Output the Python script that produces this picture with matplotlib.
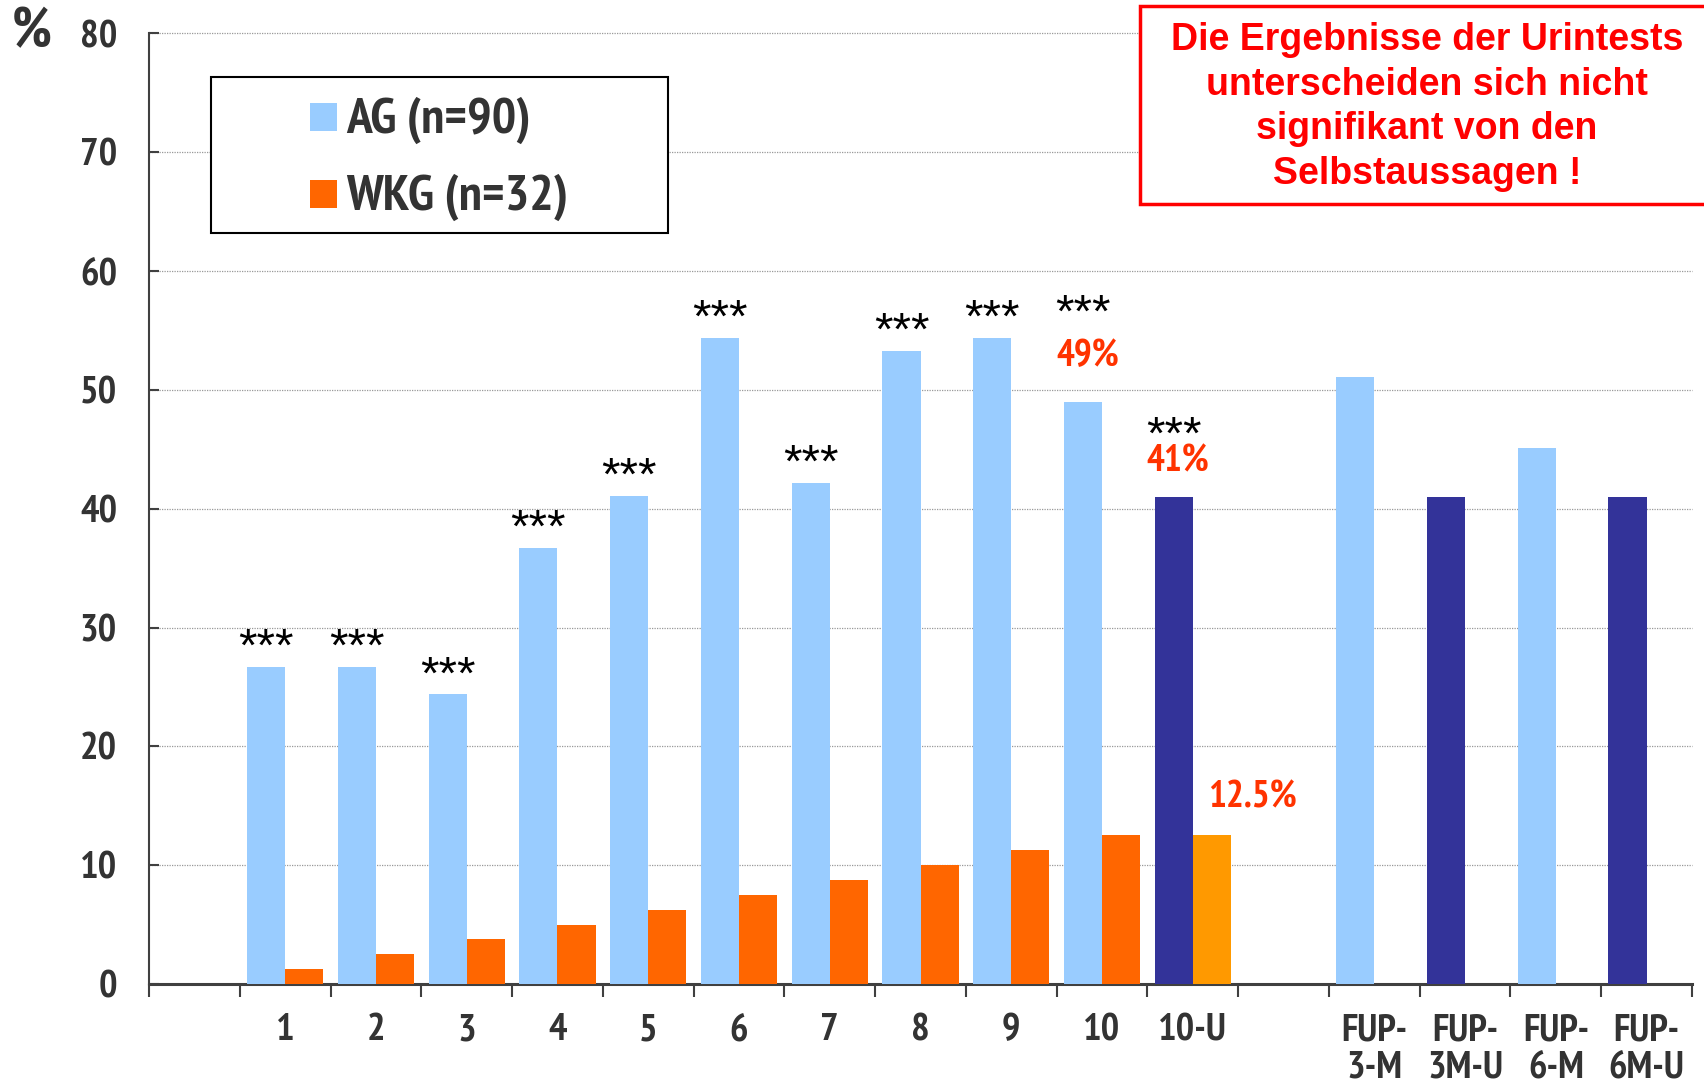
import numpy as np
import matplotlib.pyplot as plt
import matplotlib.font_manager as fm
from matplotlib.patches import Rectangle

# Kategorien (leere Einträge = Abstandhalter auf der x-Achse)
categories = ['', '1', '2', '3', '4', '5', '6', '7', '8', '9', '10', '10-U', '',
              'FUP-\n3-M', 'FUP-\n3M-U', 'FUP-\n6-M', 'FUP-\n6M-U']

# Anteil positiver Befunde in %
ag_values = [np.nan, 26.7, 26.7, 24.4, 36.7, 41.1, 54.4, 42.2, 53.3, 54.4, 49.0, 41.0, np.nan,
             51.1, 41.0, 45.1, 41.0]
wkg_values = [np.nan, 1.25, 2.5, 3.75, 5.0, 6.25, 7.5, 8.75, 10.0, 11.25, 12.5, 12.5, np.nan,
              np.nan, np.nan, np.nan, np.nan]

# Signifikanz je Kategorie
signif = ['', '***', '***', '***', '***', '***', '***', '***', '***', '***', '***', '***', '',
          '', '', '', '']

legend_labels = ['AG (n=90)', 'WKG (n=32)']
note_text = 'Die Ergebnisse der Urintests\nunterscheiden sich nicht\nsignifikant von den\nSelbstaussagen !'

LIGHT_BLUE = '#99CCFF'
NAVY = '#333399'
ORANGE = '#FF6600'
ORANGE_U = '#FF9900'
LABEL_RED = '#FF3300'
GREY = '#333333'


def has_bold(name):
    for f in fm.fontManager.ttflist:
        if f.name != name:
            continue
        w = f.weight if isinstance(f.weight, int) else fm.weight_dict.get(f.weight, 400)
        if w >= 700 and f.style == 'normal':
            return True
    return False


# schmale fette Schrift für Achsen und Legende: erste verfügbare nehmen
narrow_pick = next((n for n in ['Liberation Sans Narrow', 'Arial Narrow', 'Archivo Narrow',
                                'PT Sans Narrow', 'Pragati Narrow', 'Roboto Condensed',
                                'IBM Plex Sans Condensed', 'Fira Sans Condensed',
                                'Barlow Semi Condensed']
                    if has_bold(n)), 'Liberation Sans')
NARROW = [narrow_pick, 'DejaVu Sans']
WIDE = ['Liberation Sans', 'DejaVu Sans']

W, H = 1704, 1084


def fpx(x, y):
    """pixel position -> figure fraction"""
    return x / W, 1 - y / H


fig = plt.figure(figsize=(W / 100, H / 100), dpi=100)
ax = fig.add_axes([149 / W, 1 - 984 / H, (1692 - 149) / W, (984 - 33.5) / H])

x = np.arange(len(categories))
is_urine = [c.endswith('U') for c in categories]
ag_colors = [NAVY if u else LIGHT_BLUE for u in is_urine]
wkg_colors = [ORANGE_U if u else ORANGE for u in is_urine]

bw = 0.42
ax.bar(x - bw / 2, ag_values, bw, color=ag_colors, zorder=3)
ax.bar(x + bw / 2, wkg_values, bw, color=wkg_colors, zorder=3)

ax.set_xlim(-0.5, len(categories) - 0.5)
ax.set_ylim(0, 80)

# y-Achse
ax.set_yticks(np.arange(0, 81, 10))
ax.tick_params(axis='y', direction='in', length=7, width=1.5, color='#404040',
               pad=23, labelsize=28, labelcolor=GREY)
ax.yaxis.grid(True, linestyle=(0, (1, 1)), color='#999999', linewidth=0.9, zorder=0)
for gl in ax.get_ygridlines():
    gl.set_clip_on(False)

# x-Achse: Beschriftung mittig, Striche an den Kategoriegrenzen
ax.set_xticks(x)
ax.set_xticklabels(categories, linespacing=1.1)
ax.set_xticks(np.arange(-0.5, len(categories)), minor=True)
ax.tick_params(axis='x', which='major', length=0, pad=21, labelsize=28, labelcolor=GREY)
ax.tick_params(axis='x', which='minor', direction='out', length=9, width=1.5, color='#404040')
for lab in ax.get_xticklabels() + ax.get_yticklabels():
    lab.set_family(NARROW)
    lab.set_fontweight('bold')

for side in ('top', 'right'):
    ax.spines[side].set_visible(False)
ax.spines['left'].set_color('#404040')
ax.spines['left'].set_linewidth(1.5)
ax.spines['bottom'].set_color('#404040')
ax.spines['bottom'].set_linewidth(2.2)

# Sterne über den AG-Balken
for i, (s, v) in enumerate(zip(signif, ag_values)):
    if not s:
        continue
    lift = 1.5
    if categories[i] == '10':
        lift = 7.3
    elif categories[i] == '10-U':
        lift = 5.1
    ax.text(x[i] - bw / 2, v + lift, s, ha='center', va='center', fontsize=34,
            family=WIDE, color='black', zorder=4)

# Prozentangaben
i10 = categories.index('10')
i10u = categories.index('10-U')
pct_style = dict(ha='center', va='center', fontsize=27, fontweight='bold', family=NARROW,
                 color=LABEL_RED, zorder=4)
ax.text(x[i10] - bw / 2 + 0.05, ag_values[i10] + 3.8, f'{ag_values[i10]:.0f}%', **pct_style)
ax.text(x[i10u] - bw / 2 + 0.04, ag_values[i10u] + 2.9, f'{ag_values[i10u]:.0f}%', **pct_style)
ax.text(x[i10u] + bw / 2 + 0.45, wkg_values[i10u] + 3.2, f'{wkg_values[i10u]:.1f}%', **pct_style)

# Einheit
fig.text(*fpx(32, 33), '%', ha='center', va='center', fontsize=40, fontweight='bold',
         family=NARROW, color=GREY)

# Legende (Rahmen mit zwei Farbfeldern)
lx0, ly0 = fpx(211, 233)
lx1, ly1 = fpx(668, 77)
fig.add_artist(Rectangle((lx0, ly0), lx1 - lx0, ly1 - ly0, transform=fig.transFigure,
                         facecolor='white', edgecolor='black', linewidth=1.5, zorder=5))
for label, color, cy in zip(legend_labels, [LIGHT_BLUE, ORANGE], [117, 194]):
    sx, sy = fpx(310, cy + 13.5)
    fig.add_artist(Rectangle((sx, sy), 27 / W, 27 / H, transform=fig.transFigure,
                             facecolor=color, edgecolor='none', zorder=6))
    fig.text(*fpx(346, cy + 3), label, ha='left', va='center', fontsize=37, fontweight='bold',
             family=NARROW, color=GREY, zorder=6)

# Hinweis rechts oben
bx0, by0 = fpx(1140, 204)
bx1, by1 = fpx(1710, 6)
fig.add_artist(Rectangle((bx0, by0), bx1 - bx0, by1 - by0, transform=fig.transFigure,
                         facecolor='white', edgecolor='#FF0000', linewidth=2.5, zorder=5))
fig.text(*fpx(1427, 107), note_text, ha='center', va='center', fontsize=27, fontweight='bold',
         family=WIDE, color='#FF0000', linespacing=1.3, multialignment='center', zorder=6)

fig.savefig('out.png', dpi=100)
